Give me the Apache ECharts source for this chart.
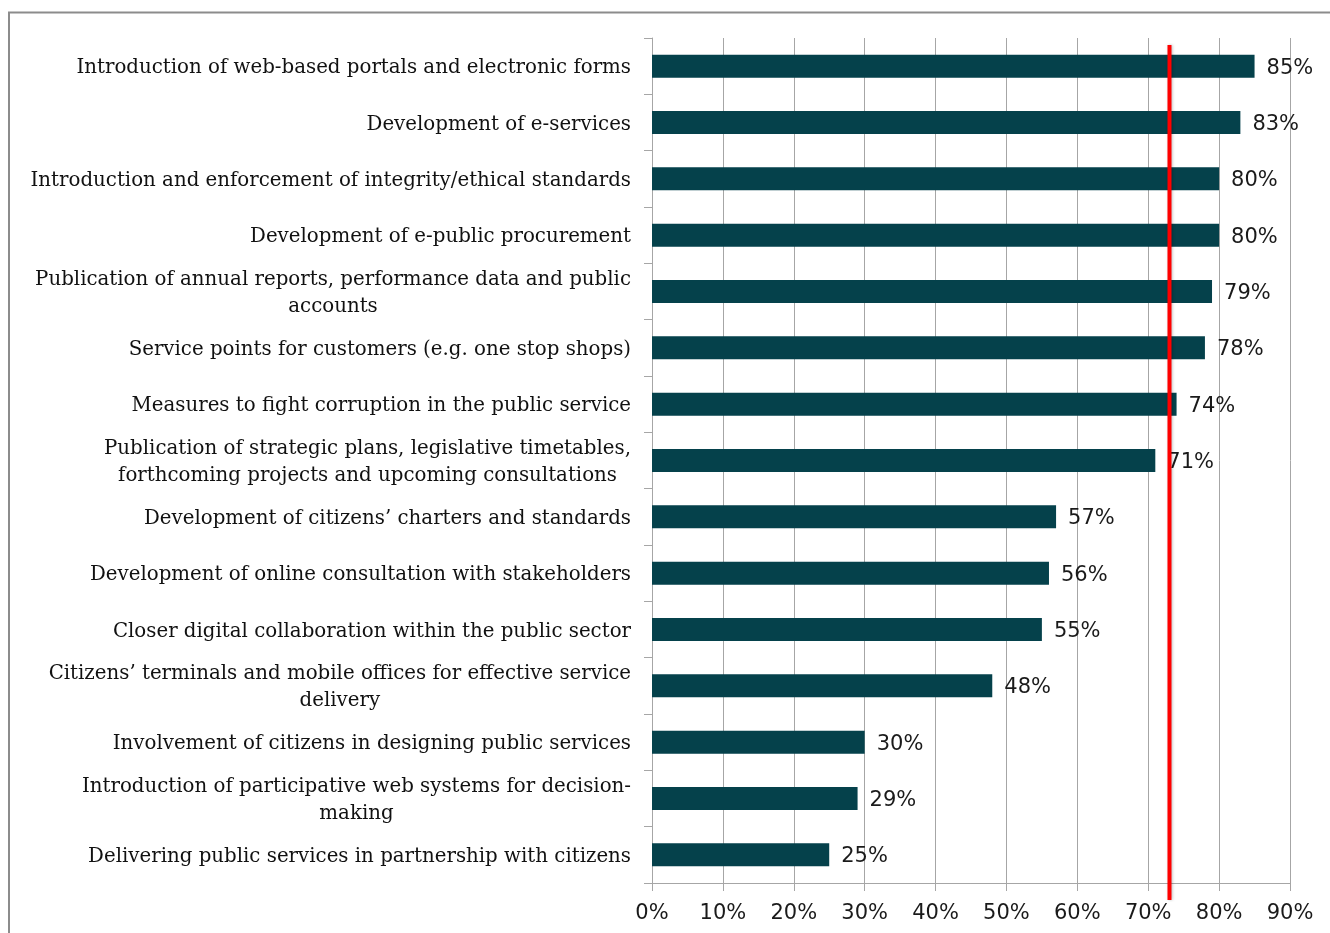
<!DOCTYPE html>
<html>
<head>
<meta charset="utf-8">
<title>Reform measures</title>
<script src="https://cdn.jsdelivr.net/npm/echarts@6/dist/echarts.min.js"></script>
<style>
  html, body { margin: 0; padding: 0; background: #fff; }
  #chart { width: 1330px; height: 933px; }
</style>
</head>
<body>
<div id="chart"></div>
<script>
// Measures, listed top to bottom
const categories = [
  'Introduction of web-based portals and electronic forms',
  'Development of e-services',
  'Introduction and enforcement of integrity/ethical standards',
  'Development of e-public procurement',
  'Publication of annual reports, performance data and public\naccounts',
  'Service points for customers (e.g. one stop shops)',
  'Measures to fight corruption in the public service',
  'Publication of strategic plans, legislative timetables,\nforthcoming projects and upcoming consultations',
  'Development of citizens\u2019 charters and standards',
  'Development of online consultation with stakeholders',
  'Closer digital collaboration within the public sector',
  'Citizens\u2019 terminals and mobile offices for effective service\ndelivery',
  'Involvement of citizens in designing public services',
  'Introduction of participative web systems for decision-\nmaking',
  'Delivering public services in partnership with citizens'
];

// Share of respondents (%)
const values = [85, 83, 80, 80, 79, 78, 74, 71, 57, 56, 55, 48, 30, 29, 25];

// Reference level marked by the red vertical line (%)
const threshold = 73;

// Percent axis range
const axisMin = 0;
const axisMax = 90;
const axisStep = 10;

const gridLeft = 652, gridRight = 40;
const axisGray = '#a6a6a6';

const chart = echarts.init(document.getElementById('chart'));

chart.setOption({
  animation: false,
  backgroundColor: '#fff',
  graphic: [{
    type: 'rect',
    silent: true,
    z: -10,
    shape: { x: 9, y: 12.5, width: 1400, height: 1000 },
    style: { fill: 'none', stroke: '#8c8c8c', lineWidth: 2 }
  }],
  grid: [
    { left: gridLeft, right: gridRight, top: 38, bottom: 50, containLabel: false },
    { left: gridLeft, right: gridRight, top: 45, bottom: 33, containLabel: false }
  ],
  xAxis: [{
    type: 'value',
    gridIndex: 0,
    min: axisMin,
    max: axisMax,
    interval: axisStep,
    axisLine: { show: true, lineStyle: { color: axisGray, width: 1 } },
    axisTick: { show: true, length: 8, lineStyle: { color: axisGray } },
    splitLine: { show: true, lineStyle: { color: axisGray, width: 1 } },
    axisLabel: {
      formatter: '{value}%',
      margin: 20,
      fontFamily: 'DejaVu Sans',
      fontSize: 21,
      color: '#1a1a1a'
    }
  }, {
    type: 'value',
    gridIndex: 1,
    min: axisMin,
    max: axisMax,
    show: false
  }],
  yAxis: [{
    type: 'category',
    gridIndex: 0,
    inverse: true,
    data: categories,
    axisLine: { show: true, lineStyle: { color: axisGray, width: 1 } },
    axisTick: { show: true, length: 8, lineStyle: { color: axisGray } },
    splitLine: { show: false },
    axisLabel: {
      margin: 21,
      padding: [4, 0, 0, 0],
      formatter: function (v) {
        return v.split('\n').map(function (s) { return '{c|' + s + '}'; }).join('\n');
      },
      rich: {
        c: {
          align: 'center',
          fontFamily: 'DejaVu Serif',
          fontSize: 19.8,
          lineHeight: 27,
          color: '#111'
        }
      }
    }
  }, {
    type: 'value',
    gridIndex: 1,
    min: 0,
    max: 1,
    show: false
  }],
  series: [{
    type: 'bar',
    xAxisIndex: 0,
    yAxisIndex: 0,
    data: values,
    barWidth: 23,
    itemStyle: { color: '#05414b' },
    label: {
      show: true,
      position: 'right',
      distance: 12,
      offset: [0, 2],
      formatter: '{c}%',
      fontFamily: 'DejaVu Sans',
      fontSize: 21,
      color: '#1a1a1a'
    },
    z: 2
  }, {
    type: 'line',
    xAxisIndex: 1,
    yAxisIndex: 1,
    data: [[threshold, 0], [threshold, 1]],
    symbol: 'none',
    silent: true,
    lineStyle: {
      color: '#ff0000',
      width: 4,
      shadowColor: 'rgba(0,0,0,0.25)',
      shadowBlur: 3,
      shadowOffsetX: 1
    },
    z: 5
  }]
});
</script>
</body>
</html>
